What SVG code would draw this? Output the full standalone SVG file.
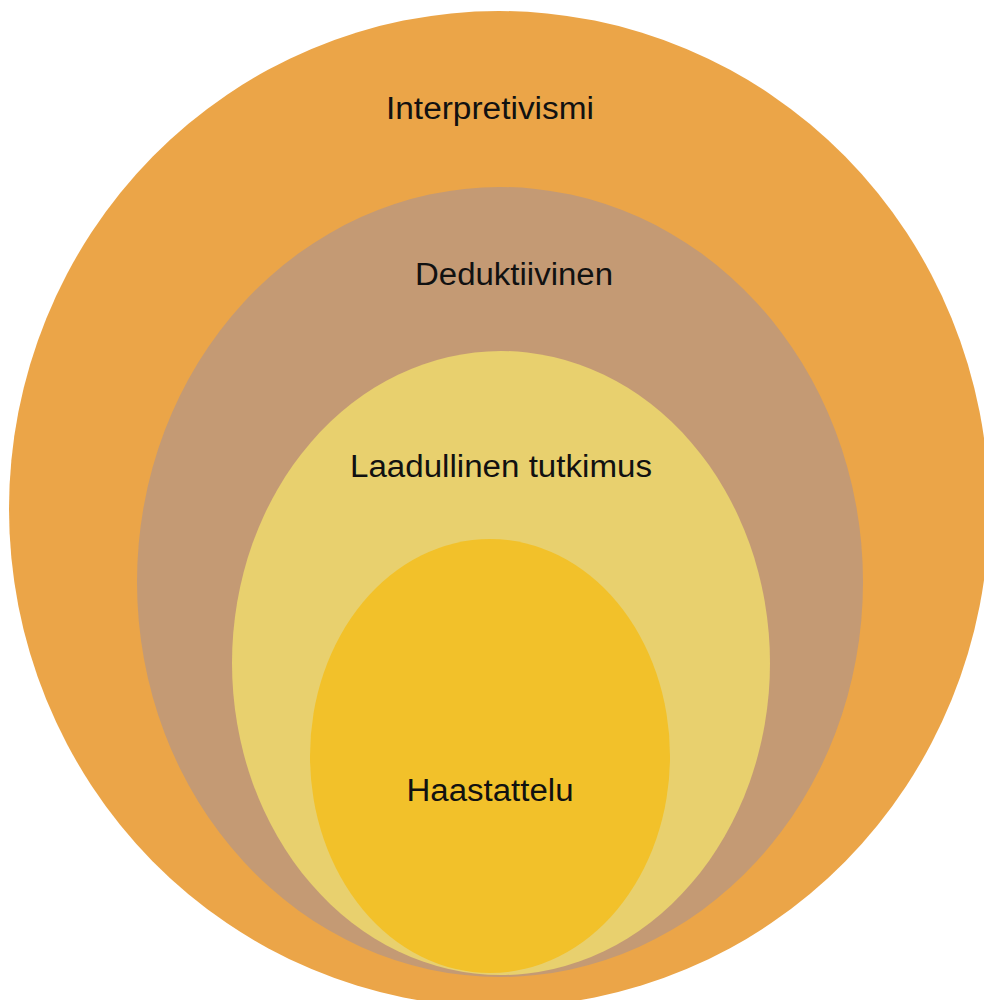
<svg xmlns="http://www.w3.org/2000/svg" width="984" height="1000" viewBox="0 0 984 1000">
<style>
.lbl{font-family:"Liberation Sans",Arial,Helvetica,sans-serif;font-size:31px;fill:#111;text-anchor:middle}
</style>
<rect width="984" height="1000" fill="#ffffff"/>
<g id="interpretivismi">
<ellipse cx="499" cy="509" rx="490" ry="498" fill="#EBA548"/>
<text class="lbl" x="490" y="119" textLength="208" lengthAdjust="spacingAndGlyphs">Interpretivismi</text>
</g>
<g id="deduktiivinen">
<ellipse cx="500" cy="582" rx="363" ry="395" fill="#C49A74"/>
<text class="lbl" x="514" y="285" textLength="198" lengthAdjust="spacingAndGlyphs">Deduktiivinen</text>
</g>
<g id="laadullinen">
<ellipse cx="501" cy="663" rx="269" ry="312" fill="#E8D06E"/>
<text class="lbl" x="501" y="477" textLength="302" lengthAdjust="spacingAndGlyphs">Laadullinen tutkimus</text>
</g>
<g id="haastattelu">
<ellipse cx="490" cy="756" rx="180" ry="217" fill="#F2C12A"/>
<text class="lbl" x="490" y="801" textLength="167" lengthAdjust="spacingAndGlyphs">Haastattelu</text>
</g>
<g id="connectors"/>
</svg>
